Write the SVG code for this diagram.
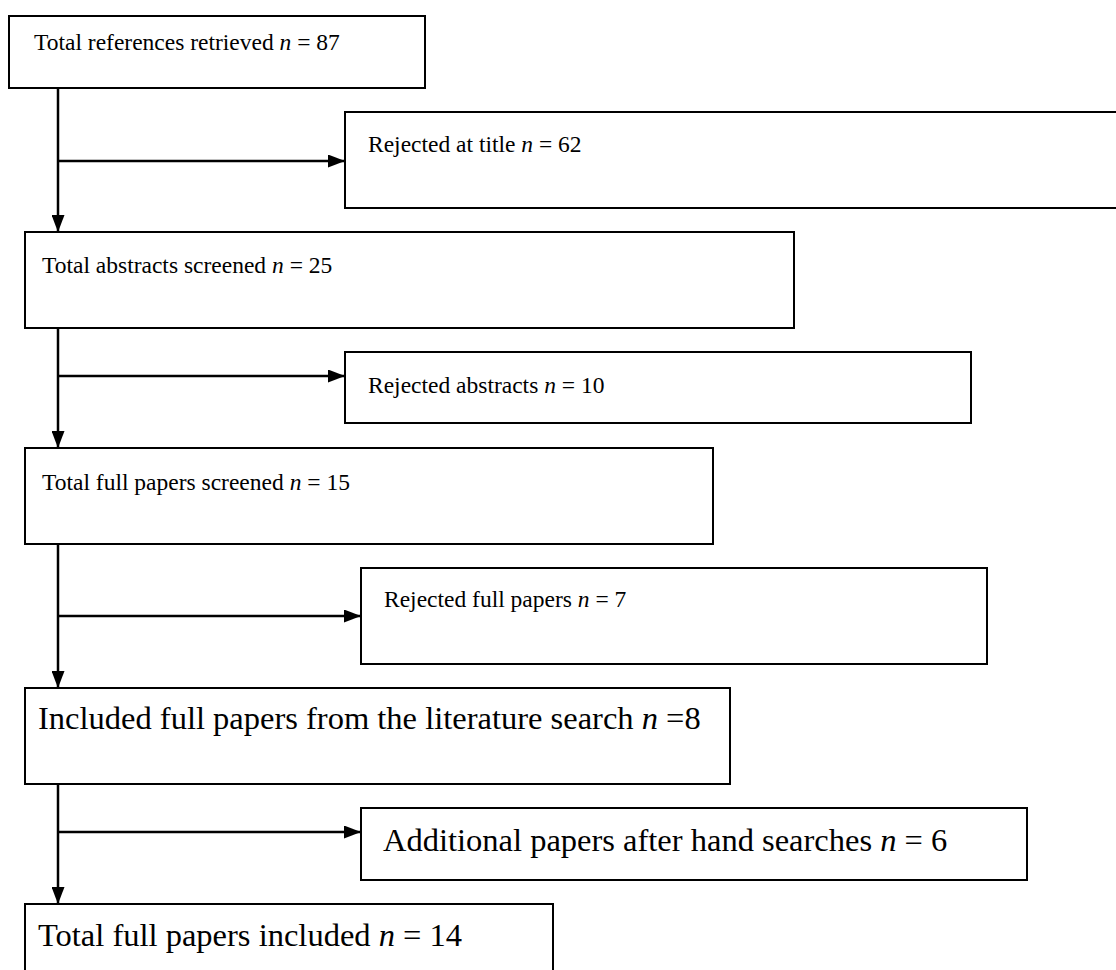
<svg xmlns="http://www.w3.org/2000/svg" width="1116" height="970" viewBox="0 0 1116 970">
<style>
.box{fill:#fff;stroke:#000;stroke-width:2}
.t{font-family:"Liberation Serif","Times New Roman",serif;font-size:23.5px;fill:#000}
.b{font-size:32.5px}
.i{font-style:italic}
.c{stroke:#000;stroke-width:2.5;fill:none}
</style>
<defs>
<marker id="ah" viewBox="0 0 17 13" refX="17" refY="6.5" markerWidth="17" markerHeight="13" markerUnits="userSpaceOnUse" orient="auto">
<path d="M0,0 L17,6.5 L0,13 z" fill="#000"/>
</marker>
</defs>
<rect width="1116" height="970" fill="#fff"/>
<g id="connectors">
<line class="c" x1="58" y1="88" x2="58" y2="232" marker-end="url(#ah)"/>
<line class="c" x1="58" y1="161" x2="345" y2="161" marker-end="url(#ah)"/>
<line class="c" x1="58" y1="328" x2="58" y2="448" marker-end="url(#ah)"/>
<line class="c" x1="58" y1="376" x2="345" y2="376" marker-end="url(#ah)"/>
<line class="c" x1="58" y1="544" x2="58" y2="688" marker-end="url(#ah)"/>
<line class="c" x1="58" y1="616" x2="361" y2="616" marker-end="url(#ah)"/>
<line class="c" x1="58" y1="784" x2="58" y2="904" marker-end="url(#ah)"/>
<line class="c" x1="58" y1="832" x2="361" y2="832" marker-end="url(#ah)"/>
</g>
<g id="n1"><rect class="box" x="9" y="16" width="416" height="72"/>
<text class="t" x="34" y="50">Total references retrieved <tspan class="i">n</tspan> = 87</text></g>
<g id="n2"><rect class="box" x="345" y="112" width="780" height="96"/>
<text class="t" x="368" y="152">Rejected at title <tspan class="i">n</tspan> = 62</text></g>
<g id="n3"><rect class="box" x="25" y="232" width="769" height="96"/>
<text class="t" x="42" y="273">Total abstracts screened <tspan class="i">n</tspan> = 25</text></g>
<g id="n4"><rect class="box" x="345" y="352" width="626" height="71"/>
<text class="t" x="368" y="393">Rejected abstracts <tspan class="i">n</tspan> = 10</text></g>
<g id="n5"><rect class="box" x="25" y="448" width="688" height="96"/>
<text class="t" x="42" y="490">Total full papers screened <tspan class="i">n</tspan> = 15</text></g>
<g id="n6"><rect class="box" x="361" y="568" width="626" height="96"/>
<text class="t" x="384" y="607">Rejected full papers <tspan class="i">n</tspan> = 7</text></g>
<g id="n7"><rect class="box" x="25" y="688" width="705" height="96"/>
<text class="t b" x="38" y="729">Included full papers from the literature search <tspan class="i">n</tspan> =8</text></g>
<g id="n8"><rect class="box" x="361" y="808" width="666" height="72"/>
<text class="t b" x="383" y="851">Additional papers after hand searches <tspan class="i">n</tspan> = 6</text></g>
<g id="n9"><rect class="box" x="25" y="904" width="528" height="80"/>
<text class="t b" x="38" y="946">Total full papers included <tspan class="i">n</tspan> = 14</text></g>
</svg>
